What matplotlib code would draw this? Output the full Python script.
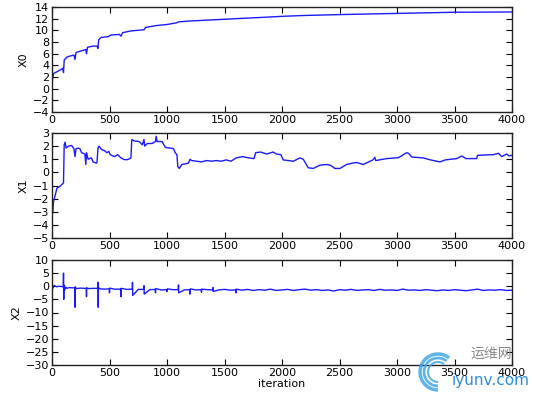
import matplotlib
matplotlib.use("Agg")
import matplotlib.pyplot as plt
from matplotlib.patches import Arc

# ---------------- data, (iteration, value) pairs ----------------
x0_points = [(0, -2.0), (3, 1.5), (14, 2.6), (43, 2.9), (71, 3.2), (94, 3.5), (100, 2.75),
             (106, 4.9), (129, 5.4), (157, 5.6), (191, 5.75), (200, 5.0), (209, 6.2),
             (257, 6.5), (294, 6.7), (300, 6.0), (309, 7.1), (357, 7.3), (391, 7.3),
             (400, 6.9), (406, 8.4), (429, 8.8), (486, 8.9), (514, 9.2), (586, 9.3),
             (600, 9.0), (614, 9.6), (686, 9.9), (800, 10.1), (814, 10.5), (900, 10.8),
             (1000, 11.0), (1086, 11.3), (1100, 11.45), (1200, 11.6), (1350, 11.75),
             (1500, 11.9), (1650, 12.05), (1808, 12.2), (2000, 12.4), (2200, 12.55),
             (2500, 12.7), (2750, 12.8), (3000, 12.9), (3250, 13.0), (3500, 13.1),
             (3750, 13.12), (4000, 13.15)]

x1_points = [(0, -2.3), (6, -3.1), (14, -2.2), (29, -1.7), (43, -1.2), (71, -1.05),
             (100, -0.8), (106, 2.1), (114, 2.3), (123, 1.85), (143, 2.0), (171, 2.05),
             (191, 1.8), (200, 1.2), (209, 1.8), (229, 1.85), (243, 1.8), (257, 1.5),
             (286, 1.4), (294, 0.6), (300, 1.5), (314, 1.0), (343, 1.1), (357, 0.8),
             (386, 0.7), (391, 0.75), (400, 1.85), (409, 2.0), (429, 1.75), (457, 1.65),
             (477, 1.5), (494, 1.6), (506, 1.35), (543, 1.2), (571, 1.35), (600, 1.1),
             (629, 0.97), (657, 0.97), (686, 1.1), (694, 2.5), (714, 2.4), (757, 2.35),
             (786, 2.1), (800, 2.5), (806, 2.0), (829, 2.2), (871, 2.2), (900, 2.35),
             (906, 2.75), (914, 2.35), (957, 2.35), (986, 1.9), (1029, 1.85), (1057, 1.8),
             (1071, 1.5), (1086, 1.35), (1094, 0.45), (1106, 0.3), (1129, 0.6),
             (1157, 0.65), (1186, 0.7), (1200, 1.0), (1214, 0.9), (1257, 0.85),
             (1300, 0.8), (1343, 0.9), (1386, 0.85), (1429, 0.9), (1471, 0.85),
             (1514, 0.95), (1557, 0.85), (1600, 1.1), (1657, 1.2), (1714, 1.1),
             (1757, 1.05), (1771, 1.5), (1814, 1.55), (1866, 1.4), (1924, 1.55),
             (1950, 1.4), (1990, 1.35), (2011, 0.95), (2098, 0.85), (2156, 1.1),
             (2185, 1.0), (2228, 0.35), (2272, 0.3), (2330, 0.55), (2388, 0.6),
             (2420, 0.55), (2460, 0.3), (2504, 0.3), (2562, 0.6), (2620, 0.72),
             (2650, 0.75), (2707, 0.6), (2790, 0.95), (2808, 1.15), (2815, 0.9),
             (2910, 1.05), (3012, 1.12), (3084, 1.5), (3100, 1.45), (3128, 1.17),
             (3229, 1.1), (3290, 0.95), (3374, 0.8), (3420, 0.95), (3519, 1.05),
             (3563, 1.25), (3600, 1.05), (3693, 1.05), (3700, 1.3), (3838, 1.35),
             (3882, 1.45), (3911, 1.2), (3954, 1.4), (3975, 1.25), (4000, 1.3)]

x2_points = [(0, -12.0), (2, -3.0), (5, 0.2), (10, -0.5), (20, 0.3), (40, -0.2), (60, 0.0),
             (80, -0.1), (98, -0.2), (100, 5.0), (102, -5.0), (104, 0.5), (110, -1.5),
             (120, -0.3), (130, -0.8), (150, -0.5), (180, -0.6), (198, -0.6), (200, -8.0),
             (202, -0.2), (210, -0.9), (250, -0.7), (280, -0.8), (298, -0.8), (300, -4.0),
             (302, -0.6), (320, -0.9), (360, -0.8), (398, -0.8), (400, 1.5), (402, -8.0),
             (404, -0.5), (420, -1.0), (460, -1.1), (498, -1.0), (500, -2.5), (502, -0.7),
             (540, -1.1), (598, -1.1), (600, -4.0), (602, -0.8), (650, -1.2), (698, -1.1),
             (700, 1.5), (702, -3.5), (750, -1.2), (798, -1.2), (800, 0.2), (802, -3.0),
             (850, -1.3), (898, -1.2), (900, -2.5), (902, -0.9), (950, -1.4), (998, -1.3),
             (1000, -2.0), (1002, -1.0), (1050, -1.3), (1098, -1.3), (1100, 0.5),
             (1102, -2.5), (1150, -1.4), (1198, -1.3), (1200, -3.0), (1202, -1.0),
             (1250, -1.4), (1298, -1.3), (1300, -2.3), (1302, -1.1), (1350, -1.3),
             (1398, -1.4), (1400, -0.5), (1402, -2.0), (1450, -1.4), (1500, -1.2),
             (1550, -1.5), (1598, -1.4), (1600, -2.5), (1602, -1.1), (1650, -1.5),
             (1700, -1.2), (1750, -1.6), (1800, -1.3), (1850, -1.5), (1900, -1.1),
             (1950, -1.6), (2000, -1.4), (2050, -1.2), (2100, -1.6), (2150, -1.3),
             (2200, -1.1), (2250, -1.5), (2300, -1.3), (2350, -1.6), (2400, -1.4),
             (2450, -1.8), (2500, -1.3), (2550, -1.5), (2600, -1.2), (2650, -1.6),
             (2700, -1.4), (2750, -1.3), (2800, -1.6), (2850, -1.2), (2900, -1.5),
             (2950, -1.4), (3000, -1.6), (3050, -1.1), (3100, -1.5), (3150, -1.4),
             (3200, -1.6), (3250, -1.3), (3300, -1.5), (3350, -1.7), (3400, -1.4),
             (3450, -1.6), (3500, -1.3), (3550, -1.5), (3600, -1.7), (3650, -1.4),
             (3700, -1.1), (3750, -1.6), (3800, -1.4), (3850, -1.5), (3900, -1.3),
             (3950, -1.6), (4000, -1.5)]

x0_iter, x0_vals = zip(*x0_points)
x1_iter, x1_vals = zip(*x1_points)
x2_iter, x2_vals = zip(*x2_points)

series = [(x0_iter, x0_vals, "X0", (-4, 14), list(range(-4, 15, 2))),
          (x1_iter, x1_vals, "X1", (-5, 3), list(range(-5, 4, 1))),
          (x2_iter, x2_vals, "X2", (-30, 10), list(range(-30, 11, 5)))]
x_ticks = [0, 500, 1000, 1500, 2000, 2500, 3000, 3500, 4000]

# ---------------- figure ----------------
fig = plt.figure(figsize=(5.33, 3.94), dpi=100, facecolor="white")
W, H = 533.0, 394.0
boxes = [(7, 112), (133, 238), (260, 365)]
left, right = 52, 512
last = None
for (xs, ys, lab, ylim, yt), (t, b) in zip(series, boxes):
    ax = fig.add_axes([left / W, 1 - b / H, (right - left) / W, (b - t) / H])
    ax.plot(xs, ys, color="#1a1aff", lw=1.0)
    ax.set_xlim(0, 4000)
    ax.set_ylim(*ylim)
    ax.set_yticks(yt)
    ax.set_xticks(x_ticks)
    ax.tick_params(direction="in", top=True, right=True, length=4, width=0.8,
                   labelsize=8, pad=2)
    ax.set_ylabel(lab, fontsize=8, labelpad=3)
    for s in ax.spines.values():
        s.set_linewidth(1.0)
        s.set_color("#222222")
    last = ax
last.set_xlabel("iteration", fontsize=8, labelpad=1)

# watermark
for r, lw in [(18, 2.5), (14, 2.0), (10, 1.5)]:
    arc = Arc((438 / W, 1 - 372 / H), 2 * r / W, 2 * r / H, theta1=60, theta2=270,
              transform=fig.transFigure, color="#3aa0e8", lw=lw, alpha=0.8)
    fig.add_artist(arc)
fig.text(470 / W, 1 - 354 / H, "运维网", fontsize=10, color="#888888",
         family=["Noto Sans CJK SC", "DejaVu Sans"], va="center", ha="left")
fig.text(452 / W, 1 - 380 / H, "iyunv.com", fontsize=11, color="#2a8ee0",
         va="center", ha="left")

fig.savefig("out.png", dpi=100, facecolor="white")
